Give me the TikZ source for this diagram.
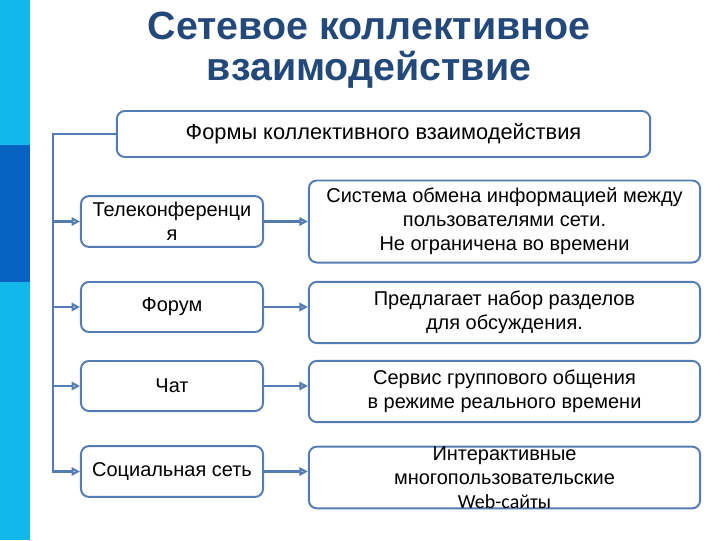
\documentclass[tikz,border=0pt]{standalone}
\usepackage{fontspec}
\setmainfont{Liberation Sans}
\newfontfamily\webfont{Carlito}
\usepackage{tikz}
\usetikzlibrary{arrows,arrows.meta,calc,positioning}

\definecolor{framec}{RGB}{84,124,178}
\definecolor{titlec}{RGB}{35,72,122}
\definecolor{barlight}{RGB}{18,184,234}
\definecolor{bardark}{RGB}{6,98,192}

\begin{document}
\begin{tikzpicture}[x=0.025cm, y=-0.025cm]
	\tikzstyle{every node} = [font=\fontsize{14.2}{17}\selectfont, align=center]
	\tikzstyle{box} = [draw = framec, line width = 1.4pt, rounded corners = 0.2cm, fill = white, inner sep = 0pt]
	\tikzstyle{arr} = [draw = framec, line width = 1.6pt, -{Triangle[open, length=6pt, width=6pt]}]

\useasboundingbox (0,0) rectangle (720,540);
\fill[barlight] (0,0) rectangle (30,540);
\fill[bardark] (0,145) rectangle (30,282);

\node[font=\fontsize{28}{29}\selectfont\bfseries, text=titlec] (title) at (369,50) {Сетевое коллективное\\взаимодействие};

\node[box, font=\fontsize{15.5}{18}\selectfont, minimum width = 13.33cm, minimum height = 1.15cm] (forms) at (383.5,134) {Формы коллективного взаимодействия};

\node[box, minimum width = 4.55cm, minimum height = 1.27cm] (tele) at (172,221.5) {Телеконференци\\я};
\node[box, minimum width = 4.55cm, minimum height = 1.25cm] (forum) at (172,307) {Форум};
\node[box, minimum width = 4.55cm, minimum height = 1.25cm] (chat) at (172,386) {Чат};
\node[box, minimum width = 4.55cm, minimum height = 1.27cm] (social) at (172,471.5) {Социальная сеть};

\node[box, minimum width = 9.78cm, minimum height = 2.05cm] (d1) at (504.5,221.5) {Система обмена информацией между\\пользователями сети.\\Не ограничена во времени};
\node[box, minimum width = 9.78cm, minimum height = 1.53cm] (d2) at (504.5,312.5) {Предлагает набор разделов\\для обсуждения.};
\node[box, minimum width = 9.78cm, minimum height = 1.53cm] (d3) at (504.5,391.5) {Сервис группового общения\\в режиме реального времени};
\node[box, minimum width = 9.78cm, minimum height = 1.53cm] (d4) at (504.5,477.5) {Интерактивные\\многопользовательские\\{\webfont Web-сайты}};

\coordinate (sp) at (53,134);

	\path[arr] (forms.west) -- (sp) |- (social.west);
	\path[arr] (sp |- tele.west) -- (tele.west);
	\path[arr] (sp |- forum.west) -- (forum.west);
	\path[arr] (sp |- chat.west) -- (chat.west);
	\path[arr] (tele.east) -- (tele.east -| d1.west);
	\path[arr] (forum.east) -- (forum.east -| d2.west);
	\path[arr] (chat.east) -- (chat.east -| d3.west);
	\path[arr] (social.east) -- (social.east -| d4.west);
\end{tikzpicture}
\end{document}
